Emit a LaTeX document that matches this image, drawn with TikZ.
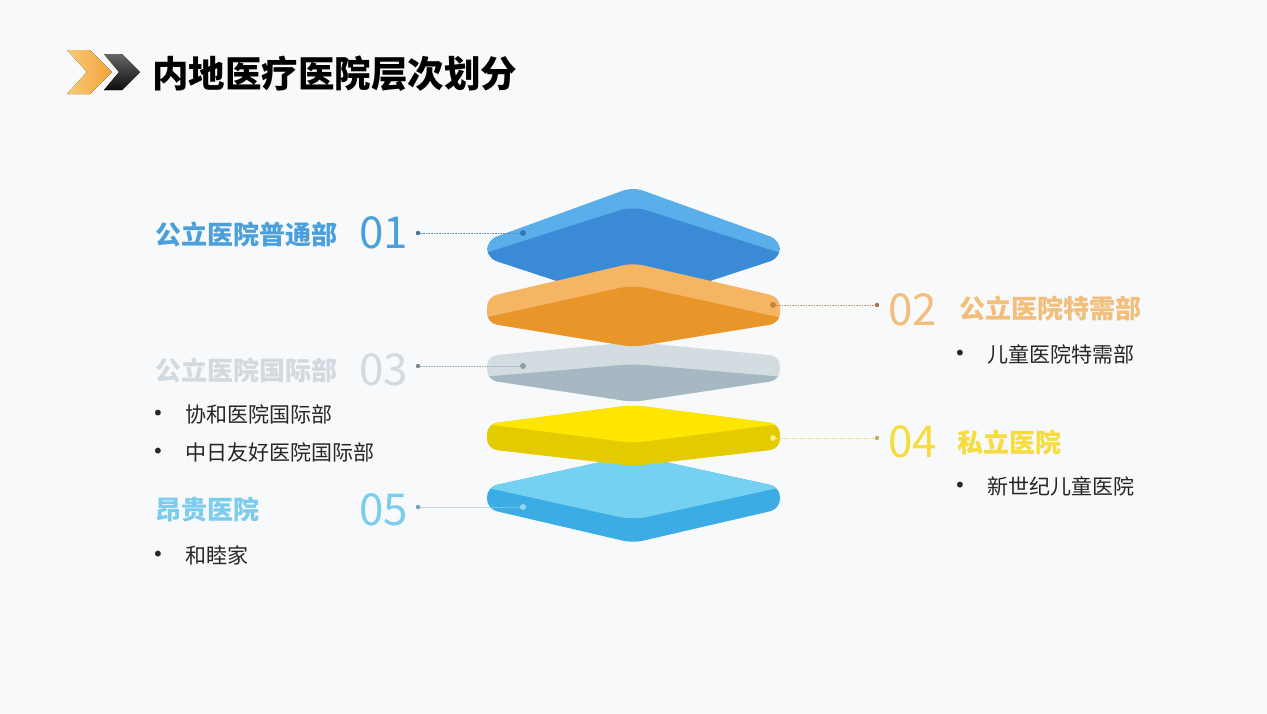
\documentclass[tikz,border=0pt]{standalone}
\usepackage{fontspec}
\setmainfont{Noto Sans CJK SC}
\newfontfamily\symfont{DejaVu Sans}
\usetikzlibrary{calc}

\definecolor{bgcol}{HTML}{F8F9FB}
\definecolor{blueL}{HTML}{5AAEEA}
\definecolor{blueD}{HTML}{3B8AD6}
\definecolor{orgL}{HTML}{F5B562}
\definecolor{orgD}{HTML}{E8962A}
\definecolor{grayL}{HTML}{D3DCE1}
\definecolor{grayD}{HTML}{A6B8C2}
\definecolor{yelT}{HTML}{FFE600}
\definecolor{yelS}{HTML}{E3CB00}
\definecolor{skyT}{HTML}{74D1F2}
\definecolor{skyS}{HTML}{3CADE4}
\definecolor{txtA}{HTML}{4BA0DC}
\definecolor{txtB}{HTML}{F1BE7C}
\definecolor{txtC}{HTML}{D2DADF}
\definecolor{txtD}{HTML}{F6DC3C}
\definecolor{txtE}{HTML}{7ACDEE}
\definecolor{leadA}{HTML}{5E8FB8}
\definecolor{leadB}{HTML}{C39A66}
\definecolor{leadC}{HTML}{9DAEB8}
\definecolor{leadD}{HTML}{EEDC70}
\definecolor{leadE}{HTML}{92CBE6}
\definecolor{dotA}{HTML}{3A76B6}
\definecolor{dotB}{HTML}{C8863A}
\definecolor{dotC}{HTML}{8E9FA9}
\definecolor{dotD}{HTML}{F8EE8A}
\definecolor{dotE}{HTML}{95D6F2}
\definecolor{chevL}{HTML}{FAC978}
\definecolor{chevR}{HTML}{F4A338}

\begin{document}
\begin{tikzpicture}[x=1pt,y=-1pt,
  leader/.style={densely dotted, line width=0.6pt},
  headtext/.style={anchor=west, inner sep=0, font=\fontsize{26}{30}\selectfont\bfseries},
  numtext/.style={anchor=west, inner sep=0, font=\fontsize{44}{50}\selectfont},
  itemtext/.style={anchor=west, inner sep=0, text=black!85, font=\fontsize{21}{25}\selectfont},
  itembullet/.style={inner sep=0, text=black!85, font=\symfont\fontsize{20}{24}\selectfont}]
\fill[bgcol] (0,0) rectangle (1267,713);

% title
\fill[left color=chevL, right color=chevR] (67,50) -- (90,50) -- (112,72) -- (90,94) -- (67,94) -- (87,72) -- cycle;
\fill[top color=black!60, bottom color=black!95] (104,54) -- (122,54) -- (140,72) -- (122,90) -- (104,90) -- (119,72) -- cycle;
\node[anchor=west, inner sep=0, font=\fontsize{36.5}{40}\selectfont\bfseries] (title) at (152,74) {内地医疗医院层次划分};

% layers, seen from below
\begin{scope}
\clip[rounded corners=10pt] (487,240) -- (633,187) -- (780,240) -- (780,258) -- (633,306) -- (487,258) -- cycle;
\fill[blueL] (470,180) rectangle (800,320);
\fill[blueD, rounded corners=14pt] (470,258) -- (633,206) -- (796,258) -- (796,320) -- (470,320) -- cycle;
\end{scope}
\begin{scope}
\clip[rounded corners=10pt] (487,356) -- (633,342) -- (780,356) -- (780,380) -- (633,402) -- (487,380) -- cycle;
\fill[grayL] (470,330) rectangle (800,410);
\fill[grayD, rounded corners=14pt] (470,378) -- (633,364) -- (796,378) -- (796,410) -- (470,410) -- cycle;
\end{scope}
\begin{scope}
\clip[rounded corners=10pt] (487,297) -- (633,263) -- (780,297) -- (780,323) -- (633,347) -- (487,323) -- cycle;
\fill[orgL] (470,255) rectangle (800,355);
\fill[orgD, rounded corners=14pt] (470,321) -- (633,285) -- (796,321) -- (796,355) -- (470,355) -- cycle;
\end{scope}
% layers, seen from above
\begin{scope}
\clip[rounded corners=10pt] (487,487) -- (633,455) -- (780,487) -- (780,509) -- (633,543) -- (487,509) -- cycle;
\fill[skyS] (470,450) rectangle (800,550);
\fill[skyT, rounded corners=14pt] (470,450) -- (796,450) -- (796,484) -- (633,520) -- (470,484) -- cycle;
\end{scope}
\begin{scope}
\clip[rounded corners=10pt] (487,424) -- (633,405) -- (780,424) -- (780,449) -- (633,466) -- (487,449) -- cycle;
\fill[yelS] (470,400) rectangle (800,470);
\fill[yelT, rounded corners=14pt] (470,400) -- (796,400) -- (796,422) -- (633,443) -- (470,422) -- cycle;
\end{scope}

% leaders
\foreach \n/\xa/\xb/\y/\c/\d in {1/418/523/233/leadA/dotA, 2/877/773/305/leadB/dotB, 3/418/523/366/leadC/dotC, 4/877/773/438/leadD/dotD, 5/418/523/507/leadE/dotE} {
 \coordinate (p\n) at (\xa,\y);
 \coordinate (q\n) at (\xb,\y);
 \draw[leader, \c] (p\n) -- (q\n);
 \fill[\c!80!black] (p\n) circle (2.2pt);
 \fill[\d] (q\n) circle (3pt);
}

% labels
\node[headtext, text=txtA] (h1) at (155,234) {公立医院普通部};
\node[numtext, text=txtA] (n1) at (359,233) {01};
\node[numtext, text=txtB] (n2) at (888,310) {02};
\node[headtext, text=txtB] (h2) at (959,308) {公立医院特需部};
\node[itembullet] (b21) at (960,355) {•};
\node[itemtext] (i21) at (987,354) {儿童医院特需部};
\node[headtext, text=txtC] (h3) at (155,370) {公立医院国际部};
\node[numtext, text=txtC] (n3) at (359,370) {03};
\node[itembullet] (b31) at (158,415) {•};
\node[itemtext] (i31) at (185,414) {协和医院国际部};
\node[itembullet] (b32) at (158,453) {•};
\node[itemtext] (i32) at (185,452) {中日友好医院国际部};
\node[numtext, text=txtD] (n4) at (888,442) {04};
\node[headtext, text=txtD] (h4) at (957,442) {私立医院};
\node[itembullet] (b41) at (960,487) {•};
\node[itemtext] (i41) at (987,486) {新世纪儿童医院};
\node[headtext, text=txtE] (h5) at (155,510) {昂贵医院};
\node[numtext, text=txtE] (n5) at (359,510) {05};
\node[itembullet] (b51) at (158,556) {•};
\node[itemtext] (i51) at (185,555) {和睦家};
\end{tikzpicture}
\end{document}
